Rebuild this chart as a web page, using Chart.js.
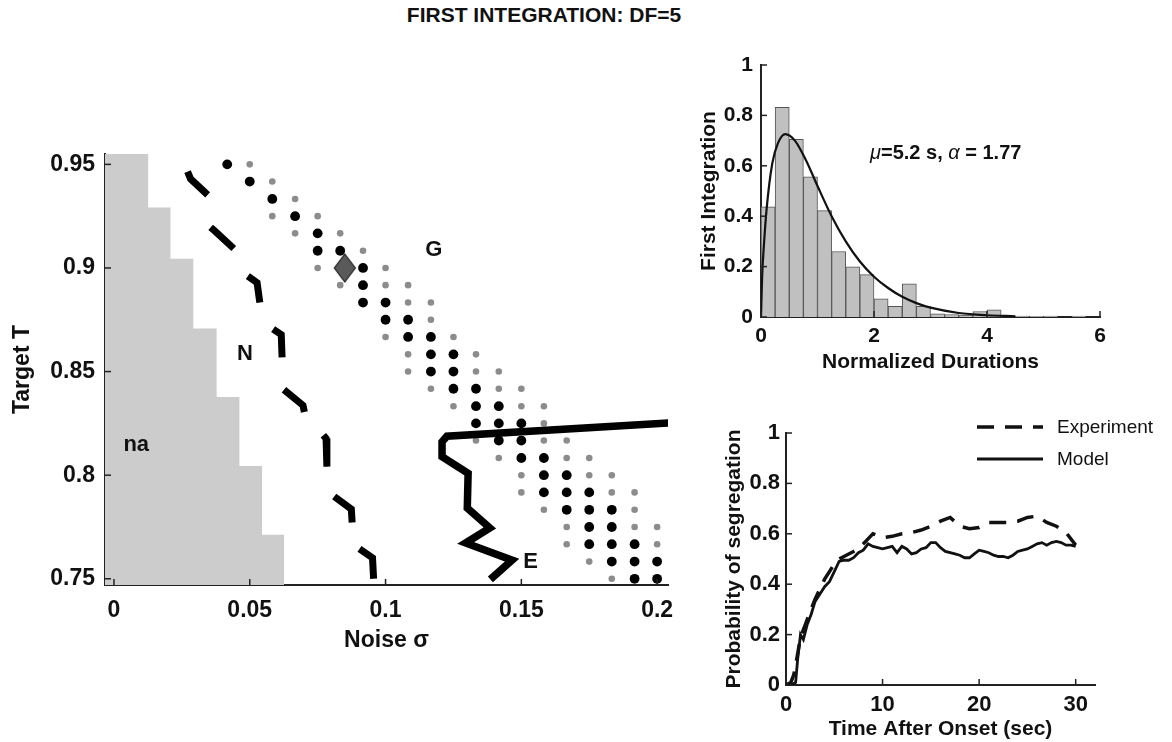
<!DOCTYPE html>
<html>
<head>
<meta charset="utf-8">
<title>First integration: DF=5</title>
<script src="https://cdn.jsdelivr.net/npm/chart.js@4.4.1/dist/chart.umd.min.js"></script>
<style>
  body { margin: 0; background: #fff; width: 1172px; height: 742px; overflow: hidden; position: relative; font-family: "Liberation Sans", Arial, sans-serif; }
  #title { position: absolute; left: 0; top: 3px; width: 1088px; text-align: center; font-weight: bold; font-size: 21px; color: #111; }
  canvas { position: absolute; }
  #mainChart { left: 0; top: 40px; }
  #histChart { left: 690px; top: 40px; }
  #probChart { left: 690px; top: 400px; }
</style>
</head>
<body>
<div id="title">FIRST INTEGRATION: DF=5</div>
<canvas id="mainChart" width="680" height="640"></canvas>
<canvas id="histChart" width="482" height="340"></canvas>
<canvas id="probChart" width="482" height="342"></canvas>
<script>
// ---------- main panel: regimes over noise / target ----------
const noiseTicks = [0, 0.05, 0.1, 0.15, 0.2]
const noiseTickLabels = ['0', '0.05', '0.1', '0.15', '0.2']
const targetTicks = [0.75, 0.8, 0.85, 0.9, 0.95]
const targetTickLabels = ['0.75', '0.8', '0.85', '0.9', '0.95']

// simulation grid
const sigmaLevels = [0.0417, 0.05, 0.0583, 0.0667, 0.075, 0.0833, 0.0917, 0.1, 0.1083, 0.1167,
                     0.125, 0.1333, 0.1417, 0.15, 0.1583, 0.1667, 0.175, 0.1833, 0.1917, 0.2]
const targetLevels = [0.95, 0.9417, 0.9333, 0.925, 0.9167, 0.9083, 0.9, 0.8917, 0.8833, 0.875,
                      0.8667, 0.8583, 0.85, 0.8417, 0.8333, 0.825, 0.8167, 0.8083, 0.8, 0.7917,
                      0.7833, 0.775, 0.7667, 0.7583, 0.75]
// per target row: which sigmaLevels get a big black / small gray dot
const blackCols = [[0], [1], [2], [3], [4], [4, 5], [6], [6], [6, 7], [7, 8], [8, 9], [9, 10], [9, 10],
                   [10, 11], [11, 12], [11, 12, 13], [12, 13], [13, 14], [14, 15], [14, 15, 16],
                   [15, 16, 17], [16, 17], [16, 17, 18], [17, 18, 19], [18, 19]]
const grayCols = [[1], [2], [3], [2, 4], [3, 5], [6], [4, 7], [5, 7, 8], [8, 9], [9], [7, 10], [8, 11],
                  [8, 11, 12], [9, 12, 13], [10, 13, 14], [14], [11, 14, 15], [12, 15, 16], [13, 16, 17],
                  [13, 17, 18], [14, 18], [15, 18, 19], [15, 19], [16], [17]]

// edge of the "na" region (staircase)
const naSigma = [-0.004, 0.0126, 0.0208, 0.0292, 0.0378, 0.0462, 0.0545, 0.0627]
const naTarget = [0.955, 0.9292, 0.9044, 0.8708, 0.8377, 0.8044, 0.7713, 0.747]

// dashed N boundary, null splits the dashes
const nSigma = [0.0271, 0.0282, 0.0345, null, 0.0356, 0.037, 0.0441, null, 0.0493, 0.0527, 0.0537, null,
                0.0586, 0.0616, 0.0619, null, 0.0626, 0.0696, 0.0701, null, 0.0771, 0.0781, 0.0784, null,
                0.0811, 0.0874, 0.0877, null, 0.0904, 0.0952, 0.0956]
const nTarget = [0.9465, 0.943, 0.9353, null, 0.9196, 0.918, 0.9094, null, 0.8961, 0.8929, 0.8833, null,
                 0.8705, 0.8678, 0.8569, null, 0.8412, 0.8337, 0.8305, null, 0.8193, 0.8177, 0.8041, null,
                 0.7897, 0.7836, 0.7772, null, 0.7644, 0.7601, 0.75]

// solid E boundary
const eSigma = [0.2041, 0.1226, 0.1208, 0.1208, 0.1304, 0.1301, 0.1384, 0.1295, 0.1466, 0.1386]
const eTarget = [0.8252, 0.8188, 0.8161, 0.8089, 0.8009, 0.7841, 0.7745, 0.7673, 0.759, 0.7497]

const markerSigma = [0.085]
const markerTarget = [0.9]

const regionNames = ['na', 'N', 'G', 'E']
const regionSigma = [0.0082, 0.0482, 0.1178, 0.1534]
const regionTarget = [0.8145, 0.8585, 0.9089, 0.758]

// ---------- histogram of first integration ----------
const durTicks = [0, 2, 4, 6]
const durTickLabels = ['0', '2', '4', '6']
const freqTicks = [0, 0.2, 0.4, 0.6, 0.8, 1]
const freqTickLabels = ['0', '0.2', '0.4', '0.6', '0.8', '1']
const binCenters = [0.125, 0.375, 0.625, 0.875, 1.125, 1.375, 1.625, 1.875, 2.125, 2.375, 2.625, 2.875,
                    3.125, 3.375, 3.625, 3.875, 4.125, 4.375, 4.625, 4.875, 5.125, 5.375, 5.625, 5.875]
const binHeights = [0.437, 0.832, 0.705, 0.556, 0.422, 0.26, 0.199, 0.168, 0.072, 0.042, 0.132, 0.042,
                    0.013, 0.01, 0.007, 0.022, 0.028, 0.004, 0.004, 0.003, 0.004, 0, 0.004, 0]
const fitX = [0, 0.02, 0.05, 0.1, 0.2, 0.3, 0.43, 0.6, 0.8, 1.0, 1.25, 1.5, 1.75, 2, 2.25, 2.5, 2.75, 3, 3.5, 4, 4.5]
const fitY = [0, 0.16, 0.28, 0.43, 0.61, 0.69, 0.726, 0.7, 0.62, 0.52, 0.4, 0.3, 0.22, 0.16, 0.115, 0.08,
              0.055, 0.037, 0.016, 0.007, 0.003]

// ---------- probability of segregation ----------
const timeTicks = [0, 10, 20, 30]
const timeTickLabels = ['0', '10', '20', '30']
const probTicks = [0, 0.2, 0.4, 0.6, 0.8, 1]
const probTickLabels = ['0', '0.2', '0.4', '0.6', '0.8', '1']
const expT = [0, 0.5, 0.8, 1.1, 1.5, 2, 2.5, 3, 3.5, 4, 4.5, 5, 5.5, 6, 6.5, 7, 7.5, 8, 8.5, 9, 10, 11, 12,
              13, 14, 15, 16, 17, 18, 19, 20, 21, 22, 23, 24, 25, 26, 27, 28, 29, 30]
const expP = [0, 0.01, 0.04, 0.1, 0.19, 0.24, 0.29, 0.34, 0.38, 0.42, 0.45, 0.48, 0.5, 0.51, 0.52, 0.53,
              0.54, 0.56, 0.58, 0.6, 0.585, 0.59, 0.6, 0.605, 0.615, 0.63, 0.65, 0.665, 0.63, 0.62, 0.625,
              0.645, 0.645, 0.645, 0.65, 0.665, 0.67, 0.645, 0.63, 0.605, 0.555]
const modelT = [0, 0.5, 1, 1.2, 1.5, 1.8, 2.2, 2.6, 3, 3.5, 4, 4.5, 5, 5.5, 6, 6.5, 7, 7.5, 8, 8.5, 9, 9.5,
                10, 10.5, 11, 11.5, 12, 12.5, 13, 13.5, 14, 14.5, 15, 15.5, 16, 16.5, 17, 17.5, 18, 18.5,
                19, 19.5, 20, 20.5, 21, 21.5, 22, 22.5, 23, 23.5, 24, 24.5, 25, 25.5, 26, 26.5, 27, 27.5,
                28, 28.5, 29, 29.5, 30]
const modelP = [0, 0, 0.01, 0.1, 0.2, 0.18, 0.24, 0.28, 0.33, 0.36, 0.39, 0.41, 0.45, 0.49, 0.495, 0.495,
                0.505, 0.525, 0.535, 0.56, 0.55, 0.545, 0.54, 0.545, 0.55, 0.525, 0.55, 0.54, 0.52, 0.525,
                0.54, 0.545, 0.565, 0.565, 0.545, 0.53, 0.525, 0.52, 0.515, 0.505, 0.505, 0.52, 0.535, 0.53,
                0.525, 0.515, 0.51, 0.51, 0.505, 0.515, 0.53, 0.535, 0.54, 0.55, 0.56, 0.565, 0.555, 0.565,
                0.57, 0.565, 0.555, 0.555, 0.55]
const legendNames = ['Experiment', 'Model']

Chart.defaults.font.family = '"Liberation Sans", Arial, sans-serif'
Chart.defaults.color = '#111'

const pts = (xs, ys) => xs.map((x, i) => ({x: x, y: ys[i]}))

const dotPoints = (rows) => {
  let out = []
  rows.forEach((cols, r) => cols.forEach(c => out.push({x: sigmaLevels[c], y: targetLevels[r]})))
  return out
}

// fixed-size axis, ticks from the arrays above
function makeAxis(o) {
  return {
    type: 'linear', min: o.min, max: o.max, offset: false,
    afterBuildTicks: s => { s.ticks = o.ticks.map(v => ({value: v})) },
    afterFit: s => {
      if (s.isHorizontal()) s.height = o.box
      else s.width = o.box
      s.paddingLeft = s.paddingRight = s.paddingTop = s.paddingBottom = 0
    },
    grid: {display: false, drawTicks: false, offset: false},
    border: {display: true, color: '#222', width: 2},
    ticks: {autoSkip: false, maxRotation: 0, padding: o.pad, color: '#111',
            font: {size: o.fontSize, weight: 'bold'}, callback: (v, i) => o.labels[i]},
    title: {display: true, text: o.title, color: '#111',
            font: {size: o.titleSize, weight: 'bold'}, padding: o.titlePad}
  }
}

// matlab style ticks pointing into the plot
const inwardTicks = {
  id: 'inwardTicks',
  afterDatasetsDraw(chart) {
    const {ctx, chartArea: a} = chart
    const xs = chart.scales.x, ys = chart.scales.y
    ctx.save()
    ctx.strokeStyle = '#222'
    ctx.lineWidth = 1.5
    xs.ticks.forEach(t => {
      const p = xs.getPixelForValue(t.value)
      ctx.beginPath(); ctx.moveTo(p, a.bottom); ctx.lineTo(p, a.bottom - 6); ctx.stroke()
    })
    ys.ticks.forEach(t => {
      const p = ys.getPixelForValue(t.value)
      ctx.beginPath(); ctx.moveTo(a.left, p); ctx.lineTo(a.left + 6, p); ctx.stroke()
    })
    ctx.restore()
  }
}

const regionLabels = {
  id: 'regionLabels',
  afterDatasetsDraw(chart) {
    const {ctx} = chart
    const xs = chart.scales.x, ys = chart.scales.y
    ctx.save()
    ctx.font = 'bold 22px "Liberation Sans", Arial, sans-serif'
    ctx.fillStyle = '#111'
    ctx.textAlign = 'center'
    ctx.textBaseline = 'middle'
    regionNames.forEach((name, i) => {
      ctx.fillText(name, xs.getPixelForValue(regionSigma[i]), ys.getPixelForValue(regionTarget[i]))
    })
    ctx.restore()
  }
}

// diamond marker
const diamond = document.createElement('canvas')
diamond.width = 24
diamond.height = 30
const dctx = diamond.getContext('2d')
dctx.beginPath()
dctx.moveTo(12, 1); dctx.lineTo(22.5, 15); dctx.lineTo(12, 29); dctx.lineTo(1.5, 15); dctx.closePath()
dctx.fillStyle = '#5a5a5a'
dctx.fill()
dctx.strokeStyle = '#222'
dctx.lineWidth = 1.2
dctx.stroke()

new Chart(document.getElementById('mainChart'), {
  type: 'scatter',
  data: {
    datasets: [
      {type: 'line', data: pts(naSigma, naTarget), stepped: 'before', fill: 'start',
       backgroundColor: '#cccccc', borderColor: 'rgba(0,0,0,0)', borderWidth: 0, pointRadius: 0, order: 10},
      {data: dotPoints(grayCols), backgroundColor: '#8c8c8c', pointRadius: 3.3, borderWidth: 0, order: 5},
      {data: dotPoints(blackCols), backgroundColor: '#000', pointRadius: 4.9, borderWidth: 0, order: 4},
      {data: pts(markerSigma, markerTarget), pointStyle: diamond, pointRadius: 10, order: 3},
      {type: 'line', data: pts(nSigma, nTarget), borderColor: '#000', borderWidth: 7, pointRadius: 0,
       spanGaps: false, borderCapStyle: 'butt', borderJoinStyle: 'miter', fill: false, order: 2},
      {type: 'line', data: pts(eSigma, eTarget), borderColor: '#000', borderWidth: 7.5, pointRadius: 0,
       borderJoinStyle: 'miter', fill: false, order: 1}
    ]
  },
  options: {
    responsive: false, animation: false, events: [],
    layout: {padding: {left: 0, top: 114, right: 12, bottom: 0}},
    plugins: {legend: {display: false}, tooltip: {enabled: false}},
    scales: {
      x: makeAxis({min: -0.0033, max: 0.204, ticks: noiseTicks, labels: noiseTickLabels, box: 95, pad: 12,
                   fontSize: 23, title: 'Noise σ', titleSize: 23, titlePad: {top: 0, bottom: 26}}),
      y: makeAxis({min: 0.747, max: 0.955, ticks: targetTicks, labels: targetTickLabels, box: 105, pad: 10,
                   fontSize: 23, title: 'Target T', titleSize: 23, titlePad: {top: 9, bottom: 0}})
    }
  },
  plugins: [inwardTicks, regionLabels]
})

// fit parameters text, mu and alpha in italic
const fitNote = [['μ', 'italic'], ['=5.2 s, ', 'bold'], ['α', 'italic'], [' = 1.77', 'bold']]
const fitNoteAt = {x: 1.93, y: 0.65}

const noteLabel = {
  id: 'noteLabel',
  afterDatasetsDraw(chart) {
    const {ctx} = chart
    let x = chart.scales.x.getPixelForValue(fitNoteAt.x)
    const y = chart.scales.y.getPixelForValue(fitNoteAt.y)
    ctx.save()
    ctx.fillStyle = '#111'
    ctx.textBaseline = 'middle'
    fitNote.forEach(([txt, style]) => {
      ctx.font = style + ' 20px "Liberation Sans", Arial, sans-serif'
      ctx.fillText(txt, x, y)
      x += ctx.measureText(txt).width
    })
    ctx.restore()
  }
}

new Chart(document.getElementById('histChart'), {
  type: 'bar',
  data: {
    datasets: [
      {type: 'line', data: pts(fitX, fitY), borderColor: '#111', borderWidth: 2.2, pointRadius: 0,
       cubicInterpolationMode: 'monotone', fill: false, order: 0},
      {data: pts(binCenters, binHeights), backgroundColor: '#c0c0c0', borderColor: '#555', borderWidth: 1,
       barPercentage: 1, categoryPercentage: 1, order: 1}
    ]
  },
  options: {
    responsive: false, animation: false, events: [],
    layout: {padding: {left: 0, top: 25, right: 72, bottom: 0}},
    plugins: {legend: {display: false}, tooltip: {enabled: false}},
    scales: {
      x: makeAxis({min: 0, max: 6, ticks: durTicks, labels: durTickLabels, box: 63, pad: 7,
                   fontSize: 21, title: 'Normalized Durations', titleSize: 21, titlePad: {top: 0, bottom: 5}}),
      y: makeAxis({min: 0, max: 1, ticks: freqTicks, labels: freqTickLabels, box: 71, pad: 8,
                   fontSize: 21, title: 'First Integration', titleSize: 21, titlePad: {top: 7, bottom: 0}})
    }
  },
  plugins: [inwardTicks, noteLabel]
})

// legend drawn by hand, above the plot area
const lineLegend = {
  id: 'lineLegend',
  afterDraw(chart) {
    const {ctx} = chart
    ctx.save()
    chart.data.datasets.forEach((ds, i) => {
      const y = 27 + i * 32
      ctx.strokeStyle = ds.borderColor
      ctx.lineWidth = ds.borderWidth
      ctx.setLineDash(ds.borderDash || [])
      ctx.beginPath(); ctx.moveTo(287, y); ctx.lineTo(353, y); ctx.stroke()
      ctx.setLineDash([])
      ctx.font = '19px "Liberation Sans", Arial, sans-serif'
      ctx.fillStyle = '#111'
      ctx.textBaseline = 'middle'
      ctx.fillText(legendNames[i], 367, y + 1)
    })
    ctx.restore()
  }
}

new Chart(document.getElementById('probChart'), {
  type: 'line',
  data: {
    datasets: [
      {data: pts(expT, expP), borderColor: '#111', borderWidth: 3.5, borderDash: [17, 11],
       borderCapStyle: 'butt', pointRadius: 0, fill: false, order: 1},
      {data: pts(modelT, modelP), borderColor: '#111', borderWidth: 2.8, pointRadius: 0, fill: false, order: 0}
    ]
  },
  options: {
    responsive: false, animation: false, events: [],
    layout: {padding: {left: 0, top: 33, right: 77, bottom: 0}},
    plugins: {legend: {display: false}, tooltip: {enabled: false}},
    scales: {
      x: makeAxis({min: 0, max: 32, ticks: timeTicks, labels: timeTickLabels, box: 57, pad: 7,
                   fontSize: 22, title: 'Time After Onset (sec)', titleSize: 21, titlePad: {top: 0, bottom: 0}}),
      y: makeAxis({min: 0, max: 1, ticks: probTicks, labels: probTickLabels, box: 96, pad: 6,
                   fontSize: 22, title: 'Probability of segregation', titleSize: 21, titlePad: {top: 32, bottom: 0}})
    }
  },
  plugins: [inwardTicks, lineLegend]
})
</script>
</body>
</html>
